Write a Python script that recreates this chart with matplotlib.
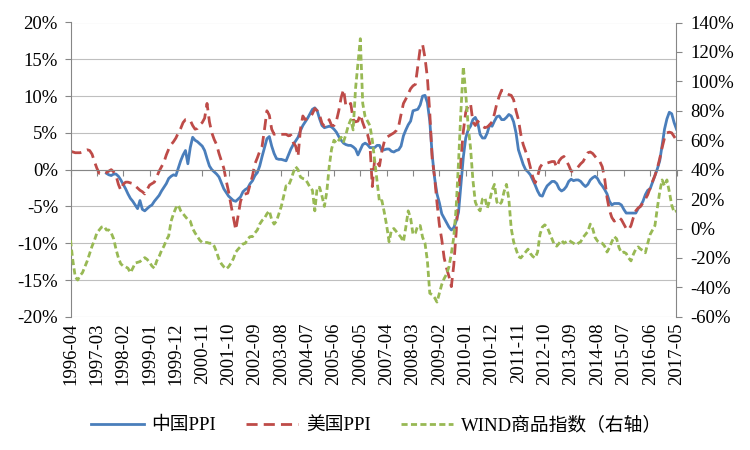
import numpy as np
import pandas as pd
import matplotlib
matplotlib.use("Agg")
import matplotlib.pyplot as plt
from matplotlib.ticker import FuncFormatter, MultipleLocator

plt.rcParams["font.family"] = ["Liberation Serif", "Noto Sans CJK SC"]

# --------------------------------------------------
# data (monthly, 1996-04 .. 2017-05), YoY in %
# --------------------------------------------------
months = pd.period_range("1996-04", "2017-05", freq="M").strftime("%Y-%m").tolist()

tick_labels = ["1996-04", "1997-03", "1998-02", "1999-01", "1999-12", "2000-11",
               "2001-10", "2002-09", "2003-08", "2004-07", "2005-06", "2006-05",
               "2007-04", "2008-03", "2009-02", "2010-01", "2010-12", "2011-11",
               "2012-10", "2013-09", "2014-08", "2015-07", "2016-06", "2017-05"]

nan = np.nan

cn_ppi = [
    nan, nan, nan, nan, nan, nan, nan, nan, nan,                      # 1996
    nan, nan, nan, nan, nan, nan, -0.5, -0.7, -0.8, -0.6, -0.6, -0.9,  # 1997
    -1.4, -2.0, -2.6, -3.3, -3.9, -4.3, -4.8, -5.3, -4.2, -5.4, -5.6, -5.3,
    -5.0, -4.8, -4.3, -3.9, -3.5, -2.9, -2.4, -1.9, -1.2, -0.9, -0.7, -0.8,
    0.2, 1.2, 2.0, 2.6, 0.8, 3.0, 4.4, 4.0, 3.8, 3.5, 3.2, 2.6,
    1.5, 0.5, 0.0, -0.3, -0.6, -1.0, -1.8, -2.6, -3.1, -3.6, -3.9, -4.2,
    -4.3, -4.0, -3.7, -3.0, -2.7, -2.5, -1.9, -1.5, -0.8, -0.4, 0.5, 1.8,
    3.0, 4.2, 4.5, 3.2, 2.2, 1.5, 1.4, 1.4, 1.3, 1.2, 2.0, 2.8,
    3.4, 3.9, 4.4, 5.3, 6.0, 6.5, 7.0, 7.6, 8.2, 8.4, 8.0, 6.9,
    6.0, 5.7, 5.8, 5.9, 5.8, 5.5, 5.1, 4.5, 4.0, 3.6, 3.4, 3.3,
    3.3, 3.1, 2.8, 2.0, 2.7, 3.4, 3.6, 3.4, 3.0, 3.0, 3.0, 3.3,
    3.3, 2.6, 2.7, 2.8, 2.8, 2.5, 2.4, 2.6, 2.7, 3.2, 4.6, 5.4,
    6.1, 6.6, 8.0, 8.1, 8.2, 8.8, 10.0, 10.1, 9.1, 6.6, 2.0, -1.1,
    -3.3, -4.5, -6.0, -6.6, -7.2, -7.8, -8.2, -7.9, -7.0, -5.8, -2.1, 1.7,
    4.3, 5.4, 5.9, 6.8, 7.1, 6.4, 4.8, 4.3, 4.3, 5.0, 6.1, 5.9,
    6.6, 7.2, 7.3, 6.8, 6.8, 7.1, 7.5, 7.3, 6.5, 5.0, 2.7, 1.7,
    0.7, 0.0, -0.3, -0.7, -1.4, -2.1, -2.9, -3.5, -3.6, -2.8, -2.2, -1.9,
    -1.6, -1.6, -1.9, -2.6, -2.9, -2.7, -2.3, -1.6, -1.3, -1.5, -1.4, -1.4,
    -1.6, -2.0, -2.3, -2.0, -1.4, -1.1, -0.9, -1.2, -1.8, -2.2, -2.7, -3.3,
    -4.3, -4.8, -4.6, -4.6, -4.6, -4.8, -5.4, -5.9, -5.9, -5.9, -5.9, -5.9,
    -5.3, -4.9, -4.3, -3.4, -2.8, -2.6, -1.7, -0.8, 0.1, 1.2, 3.3, 5.5,
    6.9, 7.8, 7.6, 6.4, 5.5,                                          # 2017
]

us_ppi = [
    2.5, 2.4, 2.3, 2.3, 2.3, 2.4, 2.6, 2.7, 2.6,                      # 1996
    2.1, 1.1, 0.2, -0.5, -0.5, -0.6, -0.4, -0.2, 0.0, -0.3, -0.8, -2.0,
    -2.8, -2.0, -1.7, -1.7, -1.8, -1.9, -2.2, -2.5, -2.8, -3.0, -3.3, -2.7,
    -2.1, -1.9, -1.7, -1.0, -0.2, 0.4, 1.0, 2.0, 2.8, 3.4, 3.8, 4.3,
    5.0, 5.6, 6.4, 6.8, 6.8, 6.7, 6.0, 5.5, 5.6, 6.1, 6.4, 7.0,
    9.0, 6.5, 5.0, 4.1, 3.4, 2.2, 1.2, 0.2, -1.5, -3.0, -4.8, -6.5,
    -8.2, -6.2, -4.3, -3.4, -3.3, -3.2, -2.0, -0.8, 0.8, 1.6, 2.5, 3.2,
    5.5, 8.0, 7.4, 5.5, 4.8, 4.9, 4.9, 4.8, 4.8, 4.8, 4.6, 4.7,
    3.7, 3.2, 1.8, 5.5, 7.3, 6.8, 7.0, 7.1, 7.6, 8.3, 8.0, 7.4,
    6.3, 5.9, 6.3, 6.8, 6.0, 6.0, 6.6, 8.0, 9.8, 10.9, 8.6, 8.8,
    9.0, 6.8, 6.5, 6.6, 7.5, 6.4, 5.5, 4.8, 3.5, -2.3, 1.5, 1.0,
    0.5, 2.5, 3.8, 4.4, 4.6, 4.8, 5.0, 5.3, 5.9, 7.5, 9.0, 9.6,
    10.3, 11.0, 11.4, 11.6, 14.0, 16.5, 17.0, 15.2, 12.5, 7.7, 1.5, -1.0,
    -4.5, -7.5, -9.5, -12.0, -13.4, -14.5, -15.9, -13.0, -8.6, -3.2, 1.4, 5.2,
    7.8, 8.7, 9.0, 6.5, 6.0, 6.6, 6.2, 5.9, 5.7, 5.8, 6.1, 6.5,
    7.6, 9.0, 10.0, 10.8, 10.6, 10.4, 10.2, 10.1, 9.5, 8.0, 6.8, 4.8,
    3.4, 2.5, 1.6, 0.3, -1.0, -1.8, -0.9, 0.3, 0.8, 0.9, 0.9, 1.0,
    1.1, 1.1, 0.3, 1.2, 1.6, 1.8, 1.2, 0.6, -0.2, -0.2, 0.0, 0.4,
    0.8, 1.1, 1.7, 2.3, 2.4, 2.2, 1.8, 1.4, 1.1, 0.4, -1.2, -3.8,
    -5.5, -6.5, -7.0, -6.8, -6.5, -6.8, -7.4, -8.0, -8.2, -7.6, -6.5, -5.6,
    -5.2, -5.0, -4.5, -4.0, -3.4, -2.5, -1.6, -0.8, 0.2, 1.5, 3.0, 4.3,
    5.0, 5.1, 5.0, 4.5, 4.0,                                          # 2017
]

wind_index = [
    -8, -22, -33, -35, -32, -30, -26, -22, -17,                       # 1996
    -12, -8, -3, -1, 1, 1.5, -1, -1, -3, -7, -14, -20,
    -24, -25.5, -26, -27, -30, -27, -23.5, -23, -22.5, -21, -19.8, -21,
    -23, -25.5, -27, -22, -19, -15, -12, -8, -5, 5, 10, 14,
    16, 12, 10, 8, 6, 5, 0, -3, -5.5, -8, -9.5, -9.5,
    -9.5, -10, -10, -12, -16, -21, -24, -26, -27.5, -26, -23.5, -20.5,
    -16, -14, -12.3, -10.5, -10, -7, -5.5, -5.5, -3, -1, 3, 5.5,
    7, 10, 12, 6, 3, 5, 10, 15, 22, 29, 29, 33,
    38, 42, 40, 35, 34, 33.5, 31, 28, 26, 12, 28, 28,
    22, 15, 25, 42, 54, 60, 58, 60, 62, 59, 64, 70,
    74, 67, 95, 112, 129, 85, 76, 73, 70, 60, 46, 32,
    18, 19, 11, 2, -9, -1, 0, -2, -4, -6, -9, 1,
    12, 7, -4, -3, 2, 2, -6, -10, -22, -44, -45, -47,
    -50, -44, -38, -34, -31, -26, -17, -6, 14, 45, 80, 110,
    92, 70, 55, 33, 18, 14, 12, 20, 21, 14, 19, 26,
    30, 18, 16, 18, 25, 30, 20, 0, -9, -14, -19, -20,
    -18, -16, -14, -17, -19, -20, -16, -4, 1, 2.5, 1, -3,
    -7, -11, -12, -10, -8, -10, -9, -8, -9, -10, -11, -10,
    -9, -6, -4, -2, 3, 0, -6, -8.5, -9.5, -10, -12, -16,
    -13, -9, -5.5, -7, -13, -16.5, -16, -17, -20, -22, -17.5, -14,
    -12.5, -14, -15, -16.5, -10, -4, -1, 2, 14, 25, 33, 29,
    33, 25, 16, 11, 12,                                               # 2017
]

# --------------------------------------------------
# plot
# --------------------------------------------------
x = np.arange(len(months))
tick_pos = [months.index(t) for t in tick_labels]
pct = FuncFormatter(lambda v, p: f"{v:.0f}%")
axis_grey = "#868686"

fig = plt.figure(figsize=(7.5, 4.5), dpi=100)
ax = fig.add_axes([0.094, 0.296, 0.808, 0.654])
ax2 = ax.twinx()

l1, = ax.plot(x, cn_ppi, color="#4A7EBB", lw=2.0, label="中国PPI")
l2, = ax.plot(x, us_ppi, color="#BE4B48", lw=2.0, linestyle=(0, (4, 2.2)), label="美国PPI")
l3, = ax2.plot(x, wind_index, color="#98B954", lw=2.0, linestyle=(0, (2.2, 1.2)),
               label="WIND商品指数（右轴）")

ax.set_xlim(0, len(months) - 1)
ax.set_ylim(-20, 20)
ax.yaxis.set_major_locator(MultipleLocator(5))
ax.yaxis.set_major_formatter(pct)
ax2.set_ylim(-60, 140)
ax2.yaxis.set_major_locator(MultipleLocator(20))
ax2.yaxis.set_major_formatter(pct)

ax.yaxis.grid(True, color="#BFBFBF", lw=0.8)
ax.set_axisbelow(True)

for s in ["top", "right"]:
    ax.spines[s].set_visible(False)
for s in ["top", "bottom", "left"]:
    ax2.spines[s].set_visible(False)
ax.spines["left"].set_color(axis_grey)
ax2.spines["right"].set_color(axis_grey)

# category axis crosses at 0, labels stay at the bottom
ax.spines["bottom"].set_position(("data", 0))
ax.spines["bottom"].set_color(axis_grey)
ax.set_xticks(tick_pos)
ax.tick_params(axis="x", direction="out", length=4, color=axis_grey, labelbottom=False)

sec = ax.secondary_xaxis("bottom")
sec.set_xticks(tick_pos, labels=tick_labels, rotation=90)
sec.tick_params(length=0, pad=4, labelsize=13.5)
sec.spines["bottom"].set_visible(False)

ax.tick_params(axis="y", direction="out", length=4, color=axis_grey, labelsize=13.5, pad=5)
ax2.tick_params(axis="y", direction="out", length=4, color=axis_grey, labelsize=13.5, pad=6)

fig.legend([l1, l2, l3], [l1.get_label(), l2.get_label(), l3.get_label()],
           loc="center", bbox_to_anchor=(0.502, 0.055), ncol=3, frameon=False,
           fontsize=13.5, handlelength=2.8, columnspacing=1.6, handletextpad=0.4)

fig.savefig("out.png", dpi=100)
